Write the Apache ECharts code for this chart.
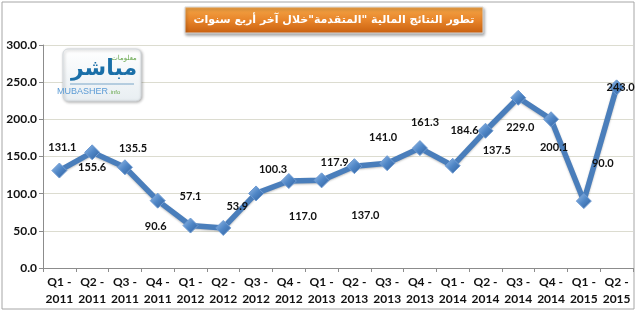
<!DOCTYPE html>
<html>
<head>
<meta charset="utf-8">
<script src="https://cdn.jsdelivr.net/npm/echarts@6/dist/echarts.min.js"></script>
<style>
html,body{margin:0;padding:0;background:#fff;}
#c{width:640px;height:311px;}
</style>
</head>
<body>
<div id="c"></div>
<script>
var categories = ['Q1 - 2011','Q2 - 2011','Q3 - 2011','Q4 - 2011','Q1 - 2012','Q2 - 2012','Q3 - 2012','Q4 - 2012','Q1 - 2013','Q2 - 2013','Q3 - 2013','Q4 - 2013','Q1 - 2014','Q2 - 2014','Q3 - 2014','Q4 - 2014','Q1 - 2015','Q2 - 2015'];
var values = [131.1,155.6,135.5,90.6,57.1,53.9,100.3,117.0,117.9,137.0,141.0,161.3,137.5,184.6,229.0,200.1,90.0,243.0];
var yTicks = [0,50,100,150,200,250,300];
var titleText = 'تطور النتائج المالية "المتقدمة"خلال آخر أربع سنوات';
// label placement (pixel offsets from each point, as in the reference)
var labelOffsets = [[3,-23],[0,15],[8,-19],[-2,26],[0,-29],[14,-21],[17,-24],[14,35],[13,-18],[11,49],[-4,-26],[5,-26],[44,-15],[-21,0],[2,30],[3,28],[19,-38],[4,0]];

var chart = echarts.init(document.getElementById('c'), null, {renderer:'canvas'});
var seriesData = values.map(function(v,i){
  return {value:v, label:{offset:labelOffsets[i]}};
});
var option = {
  animation:false,
  backgroundColor:'#ffffff',
  grid:{left:43,right:7,top:45,bottom:43,containLabel:false},
  xAxis:{
    type:'category',
    data:categories,
    boundaryGap:true,
    axisLine:{show:true,lineStyle:{color:'#8c8c8c',width:1}},
    axisTick:{show:true,length:4,lineStyle:{color:'#8c8c8c'}},
    axisLabel:{
      interval:0,
      color:'#111',
      fontFamily:'Lato',
      fontWeight:'bold',
      fontSize:12,
      lineHeight:17,
      margin:6,
      formatter:function(v){var p=v.split(' - ');return p[0]+' -\n'+p[1];}
    },
    splitLine:{show:false}
  },
  yAxis:{
    type:'value',
    min:yTicks[0],
    max:yTicks[yTicks.length-1],
    interval:yTicks[1]-yTicks[0],
    axisLine:{show:true,lineStyle:{color:'#8c8c8c',width:1}},
    axisTick:{show:true,length:4,lineStyle:{color:'#8c8c8c'}},
    axisLabel:{color:'#111',fontFamily:'Lato',fontWeight:'bold',fontSize:12,margin:6,
      formatter:function(v){return v.toFixed(1);}},
    splitLine:{show:true,lineStyle:{color:'#dcdcd0',width:1}}
  },
  series:[{
    type:'line',
    data:seriesData,
    symbol:'diamond',
    symbolSize:15,
    lineStyle:{color:'#4a7ebb',width:5.5,shadowColor:'rgba(0,0,0,0.25)',shadowBlur:2,shadowOffsetY:1},
    itemStyle:{
      color:new echarts.graphic.LinearGradient(0,0,1,1,[{offset:0,color:'#9cc0ea'},{offset:0.5,color:'#4f86c6'},{offset:1,color:'#2f5e9a'}]),
      borderColor:'#6f9bd2',borderWidth:1
    },
    label:{show:true,position:'inside',color:'#111',fontFamily:'Lato',fontWeight:'bold',fontSize:11,
      formatter:function(p){return p.value.toFixed(1);}},
    z:3
  }],
  graphic:[
    {type:'rect',shape:{x:2,y:2,width:632,height:307},style:{fill:'none',stroke:'#a6a6a6',lineWidth:1},z:0,silent:true},
    {type:'rect',shape:{x:185,y:7,width:298,height:26},
      style:{fill:new echarts.graphic.LinearGradient(0,0,0,1,[{offset:0,color:'#f4a748'},{offset:0.5,color:'#e8852a'},{offset:1,color:'#c9600f'}]),
        stroke:'#d8d8d8',lineWidth:1,shadowColor:'rgba(0,0,0,0.35)',shadowBlur:3,shadowOffsetX:1,shadowOffsetY:2},z:10},
    {type:'text',style:{x:334,y:20,text:titleText,fill:'#ffffff',font:'bold 11px "DejaVu Sans"',textAlign:'center',textVerticalAlign:'middle'},z:11},
    {type:'rect',shape:{x:63,y:49,width:78,height:52,r:5},
      style:{fill:new echarts.graphic.LinearGradient(0,0,0,1,[{offset:0,color:'#ffffff'},{offset:1,color:'#e8eef2'}]),
        stroke:'#d4d9dd',lineWidth:1,shadowColor:'rgba(0,0,0,0.3)',shadowBlur:3,shadowOffsetX:1,shadowOffsetY:1},z:10},
    {type:'text',style:{x:104,y:80,text:'مباشر',fill:'#1a6fa8',font:'bold 22px "DejaVu Sans"',textAlign:'center',textVerticalAlign:'bottom'},z:11},
    {type:'text',style:{x:124,y:58,text:'معلومات',fill:'#6aa84f',font:'7px "DejaVu Sans"',textAlign:'center',textVerticalAlign:'middle'},z:11},
    {type:'line',shape:{x1:70,y1:84,x2:134,y2:84},style:{stroke:'#7aa6c8',lineWidth:1},z:11},
    {type:'text',style:{x:108,y:92,text:'MUBASHER',fill:'#5b9bd5',font:'9px "Liberation Sans"',textAlign:'right',textVerticalAlign:'middle'},z:11},
    {type:'text',style:{x:109,y:92,text:'.info',fill:'#6aa84f',font:'6px "Liberation Sans"',textAlign:'left',textVerticalAlign:'middle'},z:11}
  ]
};
chart.setOption(option);
</script>
</body>
</html>
